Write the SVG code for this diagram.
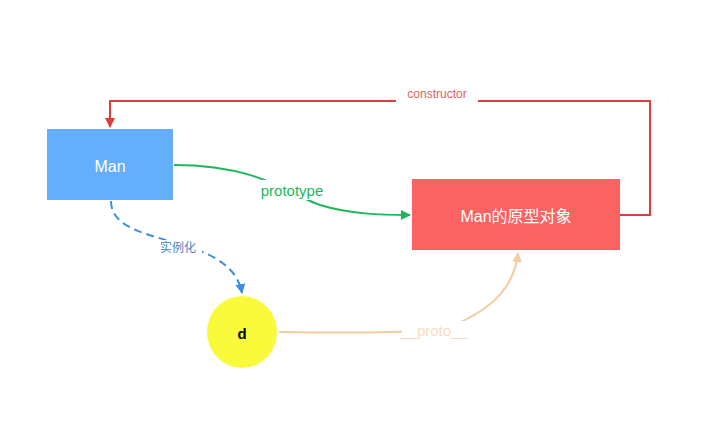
<svg xmlns="http://www.w3.org/2000/svg" width="711" height="428" viewBox="0 0 711 428">
<defs>
<style>
text{font-family:"Liberation Sans","Noto Sans CJK SC",sans-serif;text-anchor:middle;dominant-baseline:central}
.c{fill:none;stroke-width:2}
</style>
<marker id="ar" markerWidth="10" markerHeight="10" refX="9" refY="5" orient="auto" markerUnits="userSpaceOnUse"><path d="M0,0L10,5L0,10z" fill="#e03c3c"/></marker>
<marker id="ag" markerWidth="10" markerHeight="10" refX="9" refY="5" orient="auto" markerUnits="userSpaceOnUse"><path d="M0,0L10,5L0,10z" fill="#1cb85a"/></marker>
<marker id="ab" markerWidth="10" markerHeight="10" refX="9" refY="5" orient="auto" markerUnits="userSpaceOnUse"><path d="M0,0L10,5L0,10z" fill="#3b8fe0"/></marker>
<marker id="ao" markerWidth="10" markerHeight="10" refX="9" refY="5" orient="auto" markerUnits="userSpaceOnUse"><path d="M0,0L10,5L0,10z" fill="#f5cba0"/></marker>
</defs>
<rect width="711" height="428" fill="#fff"/>
<g id="connectors">
<path class="c" stroke="#e03c3c" d="M620,215H650V101H110V127" marker-end="url(#ar)"/>
<rect x="396" y="86" width="82" height="16" fill="#fff"/>
<text x="437" y="94" font-size="12" fill="#e06060">constructor</text>
<path class="c" stroke="#1cb85a" d="M174,165C260,165 290,195 320,205C350,214 380,215 410,215" marker-end="url(#ag)"/>
<rect x="252" y="180" width="82" height="20" fill="#fff"/>
<text x="292" y="190" font-size="15" fill="#1cb85a">prototype</text>
<path class="c" stroke="#3b8fe0" stroke-dasharray="8,5" d="M111,201C111,250 230,230 242,293" marker-end="url(#ab)"/>
<rect x="154" y="240" width="48" height="16" fill="#fff"/>
<text x="178" y="248" font-size="12" fill="#4a86c0">实例化</text>
<path class="c" stroke="#f5cba0" d="M279,332C350,333 380,333 440,330C500,310 515,280 518,253" marker-end="url(#ao)"/>
<rect x="402" y="321" width="66" height="18" fill="#fff"/>
<text x="434" y="330" font-size="15" fill="#f7dcc2">__proto__</text>
</g>
<g id="man"><rect x="47" y="129" width="126" height="71" fill="#64aefc"/><text x="110" y="166" font-size="16" fill="#fff">Man</text></g>
<g id="proto-obj"><rect x="412" y="179" width="208" height="71" fill="#fb6262"/><text x="516" y="216" font-size="16" fill="#fff">Man的原型对象</text></g>
<g id="d"><ellipse cx="242" cy="332" rx="35" ry="36" fill="#fafa3c"/><text x="242" y="333" font-size="15" font-weight="bold" fill="#000">d</text></g>
</svg>
